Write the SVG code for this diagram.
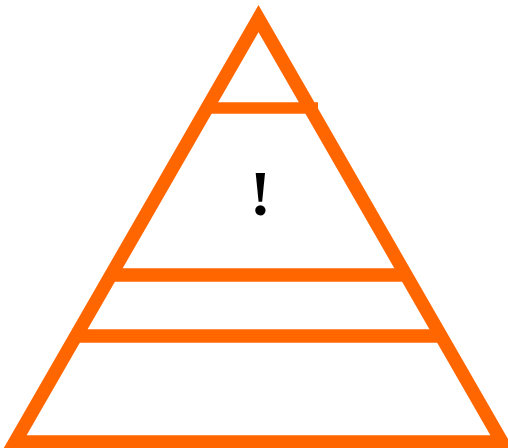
<svg xmlns="http://www.w3.org/2000/svg" width="508" height="448" viewBox="0 0 508 448">
  <style>
    .edge { fill: none; stroke: #FF6600; stroke-width: 13.5; stroke-linejoin: miter; stroke-miterlimit: 10; }
    .label { font-family: "Liberation Serif", "Times New Roman", serif; font-weight: bold; font-size: 64px; fill: #000000; text-anchor: middle; }
  </style>
  <rect width="508" height="448" fill="#FFFFFF"/>
  <g id="pyramid">
    <polygon class="edge" points="258.5,18.6 15,442 502,442"/>
  </g>
  <g id="connectors">
    <line class="edge" x1="207" y1="108" x2="318" y2="108" style="stroke-width:11.5"/>
    <line class="edge" x1="111" y1="275" x2="406" y2="275"/>
    <line class="edge" x1="76" y1="336" x2="441" y2="336"/>
  </g>
  <g id="label">
    <text class="label" x="260.5" y="215">!</text>
  </g>
</svg>
